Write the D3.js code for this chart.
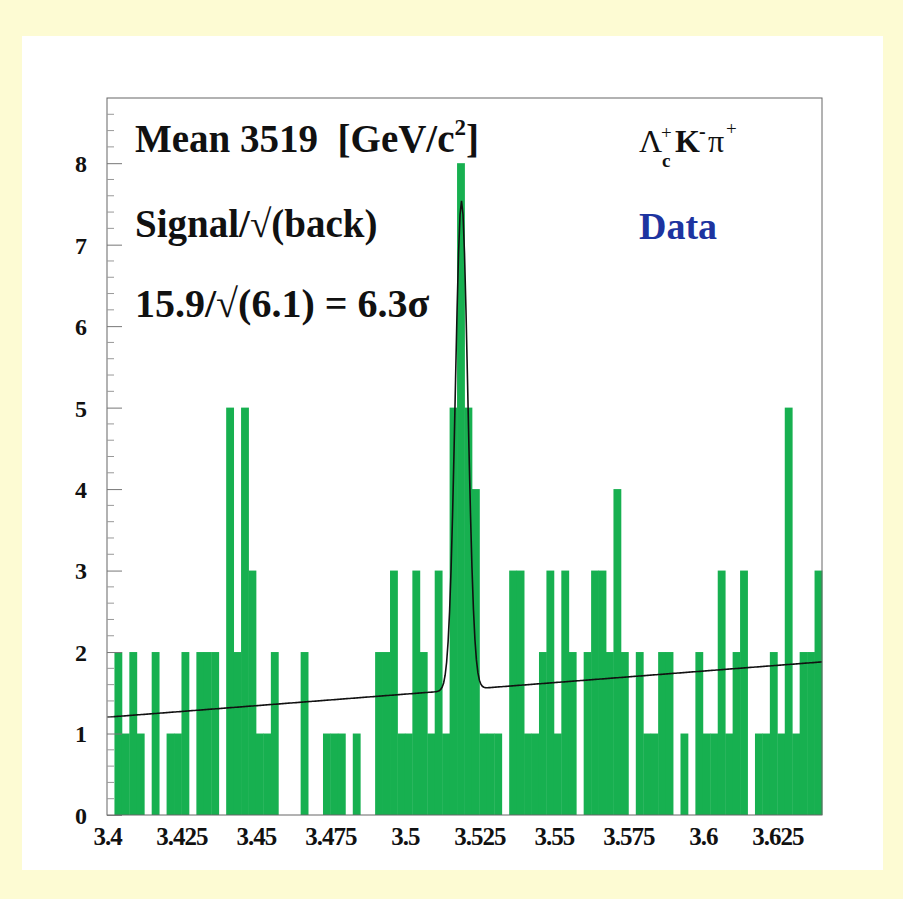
<!DOCTYPE html>
<html>
<head>
<meta charset="utf-8">
<script src="https://cdn.jsdelivr.net/npm/d3@7"></script>
<style>
  html, body { margin: 0; padding: 0; background: #fdfbd3; }
  svg { display: block; }
  .lbl { font-family: "Liberation Serif", "DejaVu Serif", serif; font-weight: bold; fill: #111; }
</style>
</head>
<body>
<svg id="chart" width="903" height="899"></svg>
<script>
// Histogram: Lambda_c+ K- pi+ invariant mass, 2.5 MeV bins from 3.400 to 3.640 GeV/c^2
const binStart = 3.4;
const binWidth = 0.0025;
const counts = [
  0, 2, 1, 2, 1, 0, 2, 0, 1, 1,
  2, 0, 2, 2, 2, 0, 5, 2, 5, 3,
  1, 1, 2, 0, 0, 0, 2, 0, 0, 1,
  1, 1, 0, 1, 0, 0, 2, 2, 3, 1,
  1, 3, 2, 1, 3, 1, 5, 8, 5, 4,
  1, 1, 1, 0, 3, 3, 1, 1, 2, 3,
  1, 3, 2, 0, 2, 3, 3, 2, 4, 2,
  0, 2, 1, 1, 2, 2, 0, 1, 0, 2,
  1, 1, 3, 1, 2, 3, 0, 1, 1, 2,
  1, 5, 1, 2, 2, 3
];
const xTicks = [3.4, 3.425, 3.45, 3.475, 3.5, 3.525, 3.55, 3.575, 3.6, 3.625];
const xTickLabels = ["3.4", "3.425", "3.45", "3.475", "3.5", "3.525", "3.55", "3.575", "3.6", "3.625"];
const yTicks = [0, 1, 2, 3, 4, 5, 6, 7, 8];

// Fit: Gaussian signal on a linear background
const fitMean = 3.519;
const fitSigma = 0.0021;
const fitAmp = 6.0;
const bkgAt34 = 1.2;
const bkgSlope = 2.83;
const fitNpx = 480;

const svg = d3.select("#chart");
const W = 903, H = 899;

// page panel
svg.append("rect").attr("x", 0).attr("y", 0).attr("width", W).attr("height", H).attr("fill", "#fdfbd3");
svg.append("rect").attr("x", 22).attr("y", 36).attr("width", 861).attr("height", 834).attr("fill", "#ffffff");

const frame = { left: 107, right: 822, top: 98, bottom: 815 };
const x = d3.scaleLinear().domain([3.4, 3.64]).range([frame.left, frame.right]);
const y = d3.scaleLinear().domain([0, 8.8]).range([frame.bottom, frame.top]);

const bins = counts.map((c, i) => ({ x0: binStart + i * binWidth, x1: binStart + (i + 1) * binWidth, n: c }));

// bars
svg.append("g")
  .selectAll("rect")
  .data(bins.filter(d => d.n > 0))
  .join("rect")
  .attr("x", d => x(d.x0))
  .attr("width", d => x(d.x1) - x(d.x0) + 0.4)
  .attr("y", d => y(d.n))
  .attr("height", d => y(0) - y(d.n))
  .attr("fill", "#17b050");

// fit curve
const fitFn = m => bkgAt34 + bkgSlope * (m - 3.4) + fitAmp * Math.exp(-0.5 * Math.pow((m - fitMean) / fitSigma, 2));
const fitPts = d3.range(fitNpx + 1).map(i => 3.4 + (3.64 - 3.4) * i / fitNpx);
svg.append("path")
  .datum(fitPts)
  .attr("d", d3.line().x(m => x(m)).y(m => y(fitFn(m))))
  .attr("fill", "none")
  .attr("stroke", "#111")
  .attr("stroke-width", 1.6);

// frame
svg.append("rect")
  .attr("x", frame.left).attr("y", frame.top)
  .attr("width", frame.right - frame.left).attr("height", frame.bottom - frame.top)
  .attr("fill", "none").attr("stroke", "#666").attr("stroke-width", 1);

// y axis: ticks drawn inward, major at integers, minor every 0.2
const yAxis = d3.axisLeft(y).tickValues(yTicks).tickSize(-15).tickPadding(20).tickFormat(d3.format("d"));
const yg = svg.append("g").attr("transform", `translate(${frame.left},0)`).call(yAxis);
yg.select(".domain").remove();
yg.selectAll(".tick line").attr("stroke", "#777");
yg.selectAll(".tick text").attr("class", "lbl").attr("font-size", 24).attr("dy", "0.35em");
const minor = d3.range(0, 44).map(i => i * 0.2).filter(v => Math.abs(v - Math.round(v)) > 1e-6);
svg.append("g").selectAll("line").data(minor).join("line")
  .attr("x1", frame.left).attr("x2", frame.left + 7)
  .attr("y1", d => y(d)).attr("y2", d => y(d))
  .attr("stroke", "#999").attr("stroke-width", 1);

// x axis labels
const xAxis = d3.axisBottom(x).tickValues(xTicks).tickSize(0).tickPadding(12)
  .tickFormat((d, i) => xTickLabels[i]);
const xg = svg.append("g").attr("transform", `translate(0,${frame.bottom})`).call(xAxis);
xg.select(".domain").remove();
xg.selectAll(".tick text").attr("class", "lbl").attr("font-size", 25).attr("letter-spacing", "-1px");

// annotations
const ann = svg.append("g");
const t1 = ann.append("text").attr("x", 135).attr("y", 152).attr("font-size", 39).attr("class", "lbl");
t1.append("tspan").text("Mean 3519\u00A0\u00A0[GeV/c");
t1.append("tspan").attr("font-size", 23).attr("dy", -17).text("2");
t1.append("tspan").attr("dy", 17).text("]");
ann.append("text").attr("class", "lbl").attr("x", 135).attr("y", 237).attr("font-size", 39).text("Signal/\u221A(back)");
ann.append("text").attr("class", "lbl").attr("x", 135).attr("y", 317).attr("font-size", 40).text("15.9/\u221A(6.1) = 6.3\u03C3");

// decay channel label
const serif = "Liberation Serif, DejaVu Serif, serif";
const part = (txt, px, py, size, weight) => svg.append("text")
  .attr("x", px).attr("y", py).attr("font-family", serif).attr("font-size", size)
  .attr("font-weight", weight).attr("fill", "#111").text(txt);
part("\u039B", 639, 152, 32, "normal");
part("+", 661, 139, 19, "normal");
part("c", 662, 167, 19, "bold");
part("K", 675, 152, 32, "bold");
part("-", 699, 138, 20, "bold");
part("\u03C0", 708, 152, 32, "normal");
part("+", 726, 135, 19, "normal");

svg.append("text").attr("x", 639).attr("y", 239).attr("font-family", serif)
  .attr("font-size", 38).attr("font-weight", "bold").attr("fill", "#1d34a0").text("Data");
</script>
</body>
</html>
